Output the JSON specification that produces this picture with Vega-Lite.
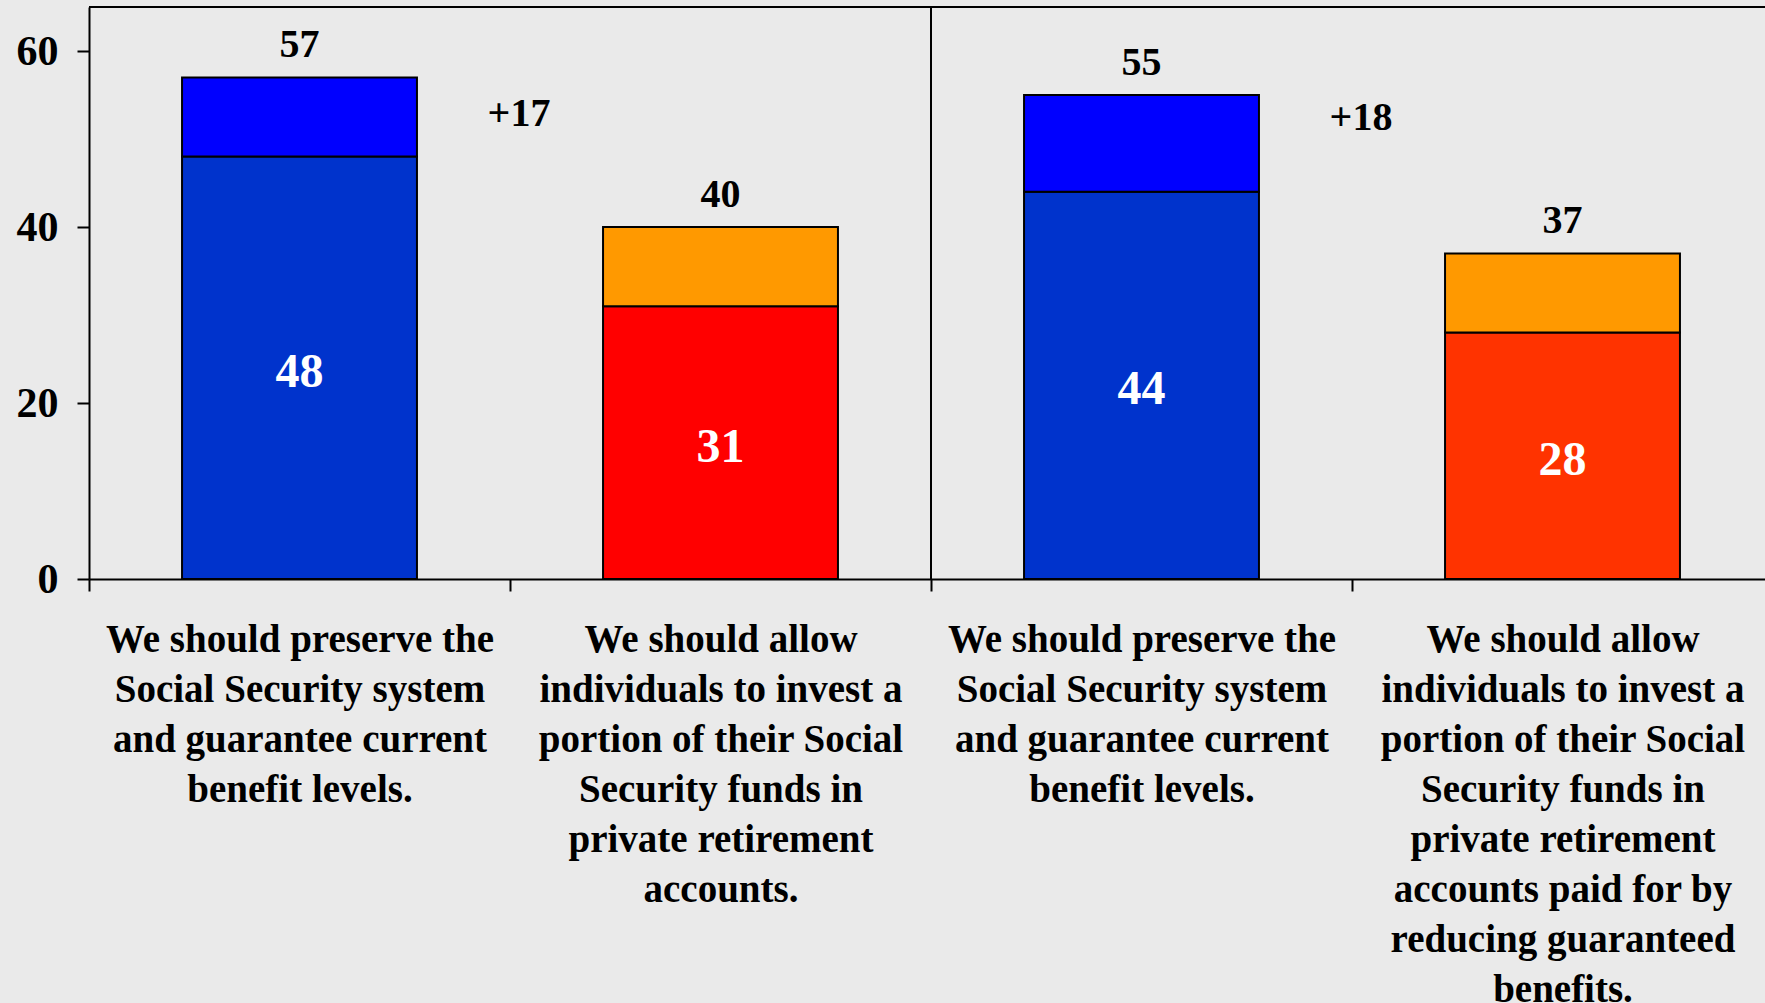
{
  "$schema": "https://vega.github.io/schema/vega-lite/v6.json",
  "width": 1676,
  "height": 572,
  "autosize": "none",
  "padding": {"left": 89, "top": 7, "right": 0, "bottom": 424},
  "background": "#EAEAEA",
  "config": {
    "view": {"stroke": null},
    "font": "Liberation Serif",
    "text": {"font": "Liberation Serif", "fontWeight": "bold"}
  },
  "datasets": {
    "bars": [
      {"q": "1|We should preserve the|Social Security system|and guarantee current|benefit levels.", "part": "Preserve (first question): base", "level": "base", "value": 48},
      {"q": "1|We should preserve the|Social Security system|and guarantee current|benefit levels.", "part": "Preserve (first question): top", "level": "top", "value": 9},
      {"q": "2|We should allow|individuals to invest a|portion of their Social|Security funds in|private retirement|accounts.", "part": "Private accounts: base", "level": "base", "value": 31},
      {"q": "2|We should allow|individuals to invest a|portion of their Social|Security funds in|private retirement|accounts.", "part": "Private accounts: top", "level": "top", "value": 9},
      {"q": "3|We should preserve the|Social Security system|and guarantee current|benefit levels.", "part": "Preserve (first question): base", "level": "base", "value": 44},
      {"q": "3|We should preserve the|Social Security system|and guarantee current|benefit levels.", "part": "Preserve (first question): top", "level": "top", "value": 11},
      {"q": "4|We should allow|individuals to invest a|portion of their Social|Security funds in|private retirement|accounts paid for by|reducing guaranteed|benefits.", "part": "Private accounts, reduced benefits: base", "level": "base", "value": 28},
      {"q": "4|We should allow|individuals to invest a|portion of their Social|Security funds in|private retirement|accounts paid for by|reducing guaranteed|benefits.", "part": "Private accounts: top", "level": "top", "value": 9}
    ],
    "notes": [
      {"q": "2|We should allow|individuals to invest a|portion of their Social|Security funds in|private retirement|accounts.", "note": "+17", "y": 52.8},
      {"q": "4|We should allow|individuals to invest a|portion of their Social|Security funds in|private retirement|accounts paid for by|reducing guaranteed|benefits.", "note": "+18", "y": 52.4}
    ]
  },
  "resolve": {"scale": {"y": "independent"}, "axis": {"y": "independent"}},
  "layer": [
    {
      "layer": [
        {
          "data": {"name": "bars"},
          "mark": {"type": "bar", "width": {"band": 0.558}, "stroke": "black", "strokeWidth": 2},
          "encoding": {
            "x": {
              "field": "q", "type": "nominal",
              "scale": {"range": [0, 1684], "paddingInner": 0, "paddingOuter": 0},
              "axis": {
                "title": null,
                "labelExpr": "slice(split(datum.label, '|'), 1)",
                "labelAngle": 0,
                "labelFont": "Liberation Serif",
                "labelFontWeight": "bold",
                "labelFontSize": 39,
                "labelLineHeight": 50,
                "labelBaseline": "top",
                "labelPadding": 29,
                "labelLimit": 0,
                "labelColor": "black",
                "tickBand": "extent",
                "tickSize": 12,
                "tickWidth": 2,
                "tickColor": "black",
                "domainColor": "black",
                "domainWidth": 2
              }
            },
            "y": {
              "field": "value", "type": "quantitative", "stack": "zero",
              "scale": {"domain": [0, 65], "nice": false},
              "axis": {
                "title": null,
                "values": [0, 20, 40, 60],
                "grid": false,
                "labelFont": "Liberation Serif",
                "labelFontWeight": "bold",
                "labelFontSize": 42,
                "labelColor": "black",
                "labelPadding": 19,
                "tickSize": 12,
                "tickWidth": 2,
                "tickColor": "black",
                "domainColor": "black",
                "domainWidth": 2
              }
            },
            "color": {
              "field": "part", "type": "nominal", "legend": null,
              "scale": {
                "domain": ["Preserve (first question): base", "Preserve (first question): top", "Private accounts: base", "Private accounts: top", "Private accounts, reduced benefits: base"],
                "range": ["#0033CC", "#0000FF", "#FF0000", "#FF9900", "#FF3300"]
              }
            },
            "order": {"field": "level", "type": "nominal", "sort": "ascending"}
          }
        },
        {
          "data": {"name": "bars"},
          "transform": [{"aggregate": [{"op": "sum", "field": "value", "as": "total"}], "groupby": ["q"]}],
          "mark": {"type": "text", "fontSize": 40, "baseline": "alphabetic", "dy": -20, "color": "black"},
          "encoding": {
            "x": {"field": "q", "type": "nominal"},
            "y": {"field": "total", "type": "quantitative"},
            "text": {"field": "total", "type": "quantitative"}
          }
        },
        {
          "data": {"name": "notes"},
          "mark": {"type": "text", "fontSize": 40, "baseline": "middle", "align": "center", "dx": 9, "color": "black"},
          "encoding": {
            "x": {"field": "q", "type": "nominal", "bandPosition": 0},
            "y": {"field": "y", "type": "quantitative"},
            "text": {"field": "note", "type": "nominal"}
          }
        },
        {
          "data": {"name": "bars"},
          "transform": [{"filter": "indexof(datum.q, '3|') == 0 && datum.level == 'base'"}],
          "mark": {"type": "rule", "color": "black", "strokeWidth": 2},
          "encoding": {
            "x": {"field": "q", "type": "nominal", "bandPosition": 0}
          }
        },
        {
          "data": {"name": "notes"},
          "transform": [{"filter": "datum.note == '+18'"}],
          "mark": {"type": "rule", "color": "black", "strokeWidth": 2},
          "encoding": {
            "y": {"datum": 65, "type": "quantitative"}
          }
        }
      ]
    },
    {
      "data": {"name": "bars"},
      "transform": [{"filter": "datum.level == 'base'"}],
      "mark": {"type": "text", "fontSize": 48, "baseline": "middle", "align": "center", "dy": 5, "color": "white"},
      "encoding": {
        "x": {"field": "q", "type": "nominal"},
        "y": {"field": "value", "type": "quantitative", "scale": {"domain": [0, 130], "nice": false}, "axis": null},
        "text": {"field": "value", "type": "quantitative"}
      }
    }
  ]
}
